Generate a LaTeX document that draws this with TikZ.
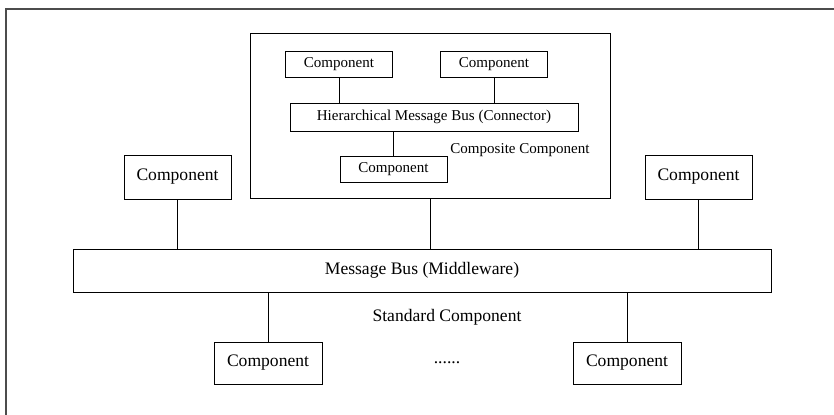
\documentclass[tikz,border=0pt]{standalone}
\usepackage{fontspec}
\setmainfont{Liberation Serif}
\usetikzlibrary{positioning}

\begin{document}
\begin{tikzpicture}[-, semithick, line width=0.6pt]
        \tikzstyle{comp} = [rectangle, draw, inner sep=0pt, minimum width=2.675cm, minimum height=1.1cm, font=\fontsize{12.5}{15}\selectfont]
        \tikzstyle{subcomp} = [rectangle, draw, inner sep=0pt, minimum width=2.675cm, minimum height=0.65cm, font=\fontsize{10.7}{13}\selectfont]
        \tikzstyle{bus} = [rectangle, draw, inner sep=0pt, font=\fontsize{12.5}{15}\selectfont]
        \tikzstyle{label} = [inner sep=0pt, font=\fontsize{12.5}{15}\selectfont]

        \clip (0,0) rectangle (20.85,-10.35);
        % outer frame, only its top and left edges are in view
        \draw[black!70, line width=0.8pt] (0.15,-0.225) rectangle (22,-11);

        % composite component with its own connector
        \node[bus, minimum width=9cm, minimum height=4.125cm](composite) at (10.75,-2.8875) {};
        \node[subcomp](sub_1) at (8.475,-1.6125) {Component};
        \node[subcomp](sub_2) at (12.35,-1.6125) {Component};
        \node[bus, minimum width=7.2cm, minimum height=0.7cm, font=\fontsize{10.7}{13}\selectfont](hbus) at (10.85,-2.925) {Hierarchical Message Bus (Connector)};
        \node[subcomp](sub_3) at (9.8375,-4.2375) {Component};
        \node[label, anchor=west, font=\fontsize{10.7}{13}\selectfont](composite_text) at (11.25,-3.75) {Composite Component};

        % middleware and the standard components
        \node[comp](comp_1) at (4.4375,-4.425) {Component};
        \node[comp](comp_2) at (17.4625,-4.425) {Component};
        \node[bus, minimum width=17.45cm, minimum height=1.075cm](mbus) at (10.55,-6.7625) {Message Bus (Middleware)};
        \node[label](standard_text) at (11.175,-7.925) {Standard Component};
        \node[comp, minimum width=2.7cm, minimum height=1.05cm](comp_3) at (6.7,-9.075) {Component};
        \node[comp, minimum width=2.7cm, minimum height=1.05cm](comp_4) at (15.675,-9.075) {Component};
        \node[label](dots) at (11.175,-9.075) {......};

        \path (sub_1) edge (sub_1 |- hbus.north)
              (sub_2) edge (sub_2 |- hbus.north)
              (sub_3) edge (sub_3 |- hbus.south)
              (comp_1) edge (comp_1 |- mbus.north)
              (composite) edge (composite |- mbus.north)
              (comp_2) edge (comp_2 |- mbus.north)
              (comp_3) edge (comp_3 |- mbus.south)
              (comp_4) edge (comp_4 |- mbus.south);
    \end{tikzpicture}
\end{document}
